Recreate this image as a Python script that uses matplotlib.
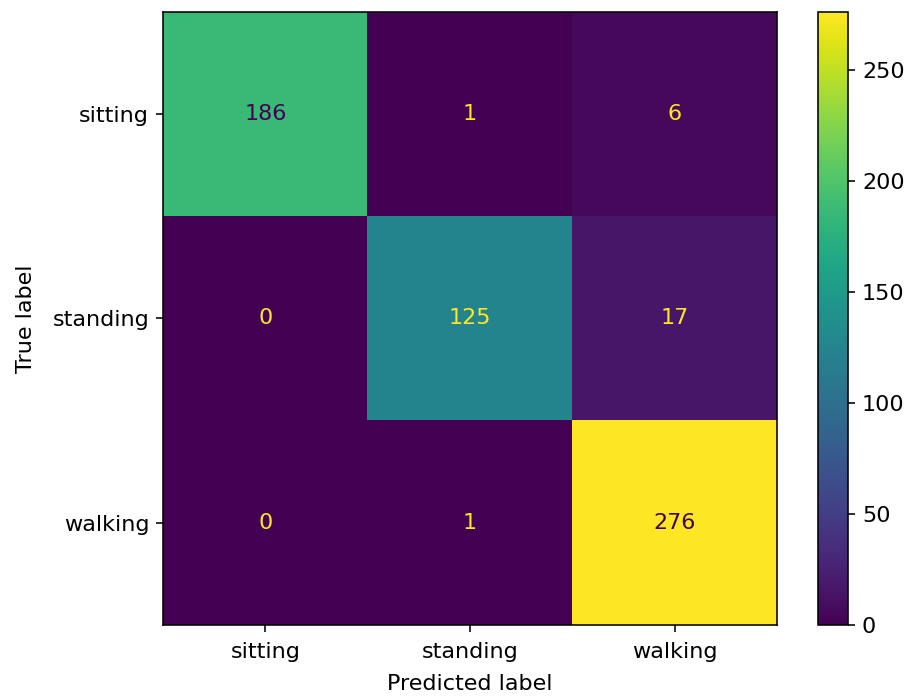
import matplotlib
matplotlib.use('Agg')
import matplotlib.pyplot as plt
import numpy as np

labels = ['sitting', 'standing', 'walking']
cm = np.array([[186, 1, 6],
               [0, 125, 17],
               [0, 1, 276]])

plt.rcParams['font.size'] = 11.2

dpi = 143
fig = plt.figure(figsize=(913 / dpi, 698 / dpi), dpi=dpi)
ax = fig.add_axes([163 / 913, 1 - 625 / 698, (777 - 163) / 913, (625 - 12) / 698])
cax = fig.add_axes([818 / 913, 1 - 625 / 698, 30 / 913, (625 - 12) / 698])

cmap = plt.get_cmap('viridis')
im = ax.imshow(cm, interpolation='nearest', cmap=cmap, aspect='auto')
fig.colorbar(im, cax=cax)

thresh = (cm.max() + cm.min()) / 2.0
cmap_min, cmap_max = cmap(0.0), cmap(1.0)
for i in range(cm.shape[0]):
    for j in range(cm.shape[1]):
        color = cmap_max if cm[i, j] < thresh else cmap_min
        ax.text(j, i, str(cm[i, j]), ha='center', va='center', color=color)

ax.set_xticks(range(len(labels)))
ax.set_xticklabels(labels)
ax.tick_params(axis='x', pad=5)
ax.set_yticks(range(len(labels)))
ax.set_yticklabels(labels)
ax.set_xlabel('Predicted label', labelpad=6)
ax.set_ylabel('True label', labelpad=8)

fig.savefig('out.png', dpi=dpi)
